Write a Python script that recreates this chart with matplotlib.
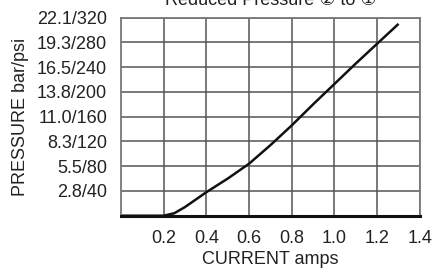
import matplotlib
matplotlib.use("Agg")
from matplotlib import pyplot as plt

# curve
current = [0.0, 0.2, 0.25, 0.3, 0.35, 0.4, 0.5, 0.6, 0.7, 0.8, 0.9, 1.0, 1.1, 1.2, 1.3]
pressure_psi = [0, 0, 4, 14, 26, 38, 60, 84, 114, 146, 180, 213, 246, 278, 310]

x_ticks = [0.2, 0.4, 0.6, 0.8, 1.0, 1.2, 1.4]
y_ticks = [40, 80, 120, 160, 200, 240, 280, 320]
y_labels = ["2.8/40", "5.5/80", "8.3/120", "11.0/160", "13.8/200",
            "16.5/240", "19.3/280", "22.1/320"]

plt.rcParams['font.family'] = ['Liberation Sans', 'DejaVu Sans', 'Noto Sans CJK SC']

fig = plt.figure(figsize=(4.32, 2.72), dpi=100)
ax = fig.add_axes([0.280, 0.207, 0.692, 0.728])

ax.plot(current, pressure_psi, color='#111111', lw=1.8,
        solid_joinstyle='round', solid_capstyle='butt')

ax.set_xlim(0, 1.4)
ax.set_ylim(0, 320)
ax.set_xticks(x_ticks)
ax.set_xticklabels([f"{v:.1f}" for v in x_ticks])
ax.set_yticks(y_ticks)
ax.set_yticklabels(y_labels)
ax.tick_params(length=0, labelsize=13, labelcolor='#222222')
ax.tick_params(axis='y', pad=10)
ax.tick_params(axis='x', pad=10)

ax.grid(True, color='#555555', lw=1.1)
for s in ['left', 'top', 'right']:
    ax.spines[s].set_color('#777777')
    ax.spines[s].set_linewidth(1.3)
ax.spines['bottom'].set_color('#111111')
ax.spines['bottom'].set_linewidth(2.2)

ax.set_xlabel("CURRENT amps", fontsize=13, color='#222222', labelpad=3)
ax.set_ylabel("PRESSURE bar/psi", fontsize=13, color='#222222', labelpad=6)
ax.set_title("Reduced Pressure ② to ①", fontsize=13, color='#222222', pad=9)

fig.savefig("out.png", dpi=100)
